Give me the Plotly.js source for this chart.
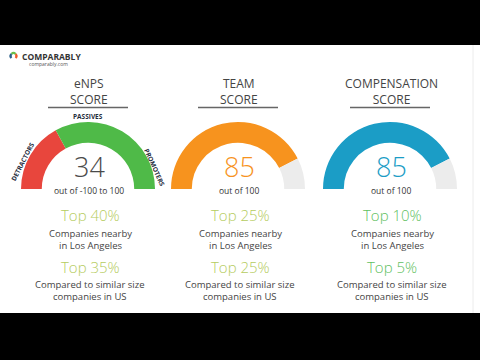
<!DOCTYPE html>
<html>
<head>
<meta charset="utf-8">
<script src="https://cdn.plot.ly/plotly-3.0.1.min.js"></script>
<style>
html,body{margin:0;padding:0;background:#000;}
#chart{width:480px;height:360px;}
</style>
</head>
<body>
<div id="chart"></div>
<script>
// ---- data ----
const gaugeTitles = ['eNPS<br>SCORE', 'TEAM<br>SCORE', 'COMPENSATION<br>SCORE'];
const scores = [34, 85, 85];
const scoreRanges = ['out of -100 to 100', 'out of 100', 'out of 100'];
const enpsSegmentLabels = ['Detractors', 'Passives & Promoters'];
const enpsSegmentValues = [34, 66];
const enpsArcLabels = ['DETRACTORS', 'PASSIVES', 'PROMOTERS'];
const teamValues = [85, 15];
const compensationValues = [85, 15];
const localRanks = ['Top 40%', 'Top 25%', 'Top 10%'];
const localRankText = 'Companies nearby<br>in Los Angeles';
const sizeRanks = ['Top 35%', 'Top 25%', 'Top 5%'];
const sizeRankText = 'Compared to similar size<br>companies in US';
const brandName = 'COMPARABLY';
const brandUrl = 'comparably.com';

// ---- layout helpers ----
const W = 480, H = 360;
const px = x => x / W;
const py = y => 1 - y / H;
const FONT = '"Open Sans", "Noto Sans", sans-serif';

const centers = [88, 238, 390];
const CY = 189, R = 67, HOLE = 0.69;
const scoreColors = ['#4a4a4a', '#f7931e', '#1b9dc6'];
const rankColors = ['#b5cc5e', '#b5cc5e', '#5fbf5f'];
const sizeRankColors = ['#b5cc5e', '#b5cc5e', '#5fbf5f'];

function gaugeTrace(i, values, colors, names) {
  const cx = centers[i];
  return {
    type: 'pie',
    values: values.concat([values.reduce((a, b) => a + b, 0)]),
    labels: names.concat(['blank']),
    marker: {colors: colors.concat(['rgba(0,0,0,0)']), line: {width: 0}},
    hole: HOLE,
    sort: false,
    direction: 'clockwise',
    rotation: 270,
    textinfo: 'none',
    hoverinfo: 'skip',
    showlegend: false,
    domain: {x: [px(cx - R), px(cx + R)], y: [py(CY + R), py(CY - R)]}
  };
}

const traces = [
  gaugeTrace(0, enpsSegmentValues, ['#e8463d', '#4fba48'], enpsSegmentLabels),
  gaugeTrace(1, teamValues, ['#f7931e', '#ececec'], ['Team', 'rest']),
  gaugeTrace(2, compensationValues, ['#1b9dc6', '#ececec'], ['Compensation', 'rest']),
  // logo icon
  {
    type: 'pie',
    values: [25, 25, 25, 25],
    marker: {colors: ['#f15a29', '#6cbf4a', '#2b5f8a', 'rgba(0,0,0,0)'], line: {width: 0}},
    hole: 0.45, sort: false, direction: 'counterclockwise', rotation: 45,
    textinfo: 'none', hoverinfo: 'skip', showlegend: false,
    domain: {x: [px(9.5), px(17.5)], y: [py(60), py(52)]}
  }
];

const annotations = [];
const shapes = [
  {type: 'rect', xref: 'paper', yref: 'paper', x0: 0, x1: 1, y0: py(313), y1: py(45),
   fillcolor: '#ffffff', line: {width: 0}, layer: 'below'},
  {type: 'line', xref: 'paper', yref: 'paper', x0: px(473), x1: px(473), y0: py(313), y1: py(45),
   line: {color: '#ececec', width: 1}, layer: 'below'}
];

for (let i = 0; i < 3; i++) {
  const cx = centers[i];
  annotations.push({x: px(cx + 1), y: py(91), text: gaugeTitles[i], showarrow: false,
    font: {family: FONT, size: 12, color: '#444'}, xanchor: 'center', yanchor: 'middle'});
  shapes.push({type: 'line', xref: 'paper', yref: 'paper', x0: px(cx - 40), x1: px(cx + 40),
    y0: py(107.5), y1: py(107.5), line: {color: '#666', width: 1.5}});
  annotations.push({x: px(cx + 1), y: py(166), text: String(scores[i]), showarrow: false,
    font: {family: FONT, size: 27, color: scoreColors[i], weight: 300}, xanchor: 'center', yanchor: 'middle'});
  annotations.push({x: px(cx + 1), y: py(190.5), text: scoreRanges[i], showarrow: false,
    font: {family: FONT, size: 8.5, color: '#333'}, xanchor: 'center', yanchor: 'middle'});
  annotations.push({x: px(cx + 2), y: py(215), text: localRanks[i], showarrow: false,
    font: {family: FONT, size: 15, color: rankColors[i], weight: 300}, xanchor: 'center', yanchor: 'middle'});
  annotations.push({x: px(cx + 2), y: py(239), text: localRankText, showarrow: false,
    font: {family: FONT, size: 9.5, color: '#444'}, xanchor: 'center', yanchor: 'middle'});
  annotations.push({x: px(cx + 2), y: py(267), text: sizeRanks[i], showarrow: false,
    font: {family: FONT, size: 15, color: sizeRankColors[i], weight: 300}, xanchor: 'center', yanchor: 'middle'});
  annotations.push({x: px(cx + 2), y: py(290), text: sizeRankText, showarrow: false,
    font: {family: FONT, size: 9.5, color: '#444'}, xanchor: 'center', yanchor: 'middle'});
}

// arc labels for eNPS gauge
const arcPos = [[23, 162, -63], [88, 117, 0], [155, 167, 66]];
enpsArcLabels.forEach((t, k) => {
  annotations.push({x: px(arcPos[k][0]), y: py(arcPos[k][1]), text: '<b>' + t + '</b>', showarrow: false,
    textangle: arcPos[k][2], font: {family: FONT, size: 6.5, color: '#1f2d3d'},
    xanchor: 'center', yanchor: 'middle'});
});

// brand
annotations.push({x: px(19.5), y: py(56), text: '<b>' + brandName + '</b>', showarrow: false,
  font: {family: FONT, size: 8.5, color: '#333'}, xanchor: 'left', yanchor: 'middle'});
annotations.push({x: px(48.5), y: py(64), text: brandUrl, showarrow: false,
  font: {family: FONT, size: 5, color: '#555'}, xanchor: 'center', yanchor: 'middle'});

const layout = {
  width: W, height: H,
  margin: {l: 0, r: 0, t: 0, b: 0, pad: 0},
  paper_bgcolor: '#000000',
  plot_bgcolor: 'rgba(0,0,0,0)',
  showlegend: false,
  annotations: annotations,
  shapes: shapes
};

Plotly.newPlot('chart', traces, layout, {displayModeBar: false, staticPlot: true});
</script>
</body>
</html>
